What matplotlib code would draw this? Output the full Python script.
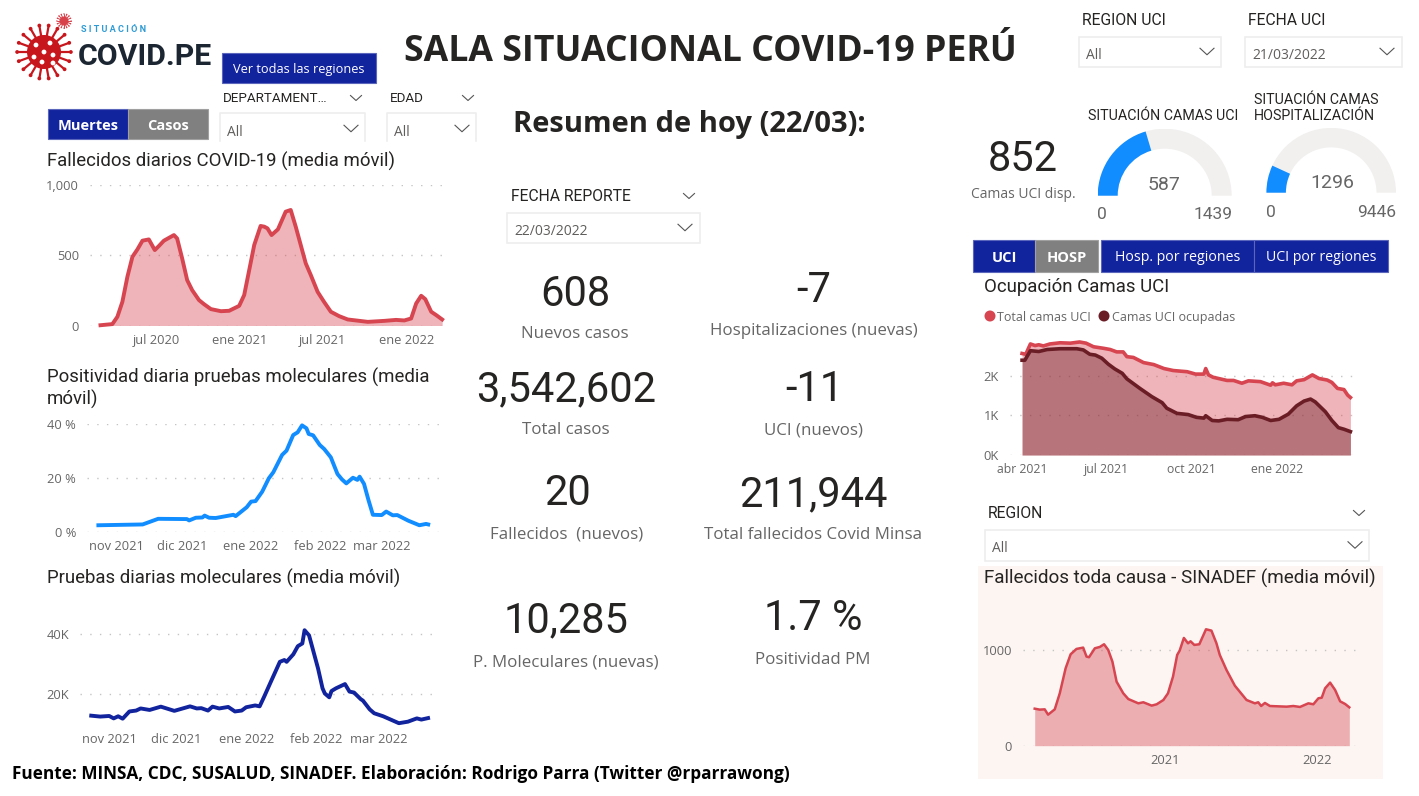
import matplotlib
matplotlib.use("Agg")
from matplotlib import pyplot as plt
from matplotlib.patches import Rectangle, Wedge, Circle
import numpy as np
import pandas as pd

W, H = 1419, 796

# fallecidos diarios covid
fall_inicio = "2020-03-01"
fall_dias = [0, 26, 37, 48, 59, 70, 81, 92, 106, 119, 128, 139, 161, 168, 179, 190, 201, 216, 227, 242,
             264, 282, 304, 315, 326, 337, 351, 359, 366, 375, 389, 406, 417, 428, 439, 450, 461, 476,
             490, 505, 523, 542, 586, 622, 648, 666, 681, 692, 703, 712, 725, 736, 749]
fall_vals = [2, 10, 62, 169, 348, 490, 543, 605, 614, 538, 567, 605, 645, 621, 479, 324, 252, 181, 152, 117,
             102, 105, 140, 217, 395, 574, 710, 705, 693, 645, 686, 812, 824, 705, 574, 443, 360, 240,
             169, 98, 67, 43, 26, 33, 40, 36, 50, 157, 212, 188, 98, 74, 43]

# positividad
pos_inicio = "2021-10-24"
pos_dias = [0, 20, 27, 40, 41, 44, 47, 48, 50, 53, 61, 62, 67, 69, 71, 74, 77, 79, 83, 85, 88, 90, 92, 94, 95,
            97, 100, 102, 105, 108, 110, 112, 115, 117, 118, 120, 122, 124, 128, 130, 133, 135, 140, 145, 148, 149]
pos_vals = [2.4, 2.7, 4.8, 4.7, 4.2, 5.2, 5.3, 6.0, 5.2, 5.1, 6.3, 5.8, 9.1, 11.2, 11.4, 14.9, 19.9, 22.1, 28.6,
            30.2, 36, 37, 39.6, 38.5, 36.4, 35.9, 32.3, 30.8, 27.7, 21.5, 19.5, 18, 20.1, 19.3, 20.5, 17.8, 11.8,
            6.3, 6.2, 7.5, 6.1, 6.2, 4.1, 2.4, 2.9, 2.7]

# pruebas moleculares (miles)
pru_inicio = "2021-10-24"
pru_dias = [0, 4, 8, 10, 12, 14, 17, 20, 22, 26, 31, 37, 44, 47, 49, 52, 54, 57, 61, 64, 67, 69, 73, 75, 77, 80,
            82, 84, 86, 87, 90, 92, 94, 95, 97, 99, 101, 103, 104, 106, 107, 109, 113, 115, 117, 120, 121, 124,
            126, 130, 137, 141, 145, 147, 150]
pru_vals = [12.7, 12.4, 12.6, 11.8, 12.5, 11.7, 14.1, 14.4, 15.1, 14.6, 15.7, 14.3, 15.8, 15.1, 15.2, 14.4, 15.7,
            15.1, 15.6, 14.1, 14.4, 15.5, 16.1, 15.8, 19, 24, 27.3, 30.6, 31.2, 30.6, 33.1, 35.8, 36.7, 41.1, 39.4,
            33.9, 28.4, 21.8, 20.1, 18.8, 20.9, 21.8, 23.2, 20.7, 20.4, 18.2, 17.7, 14.8, 13.5, 12.5, 10.2, 10.7,
            11.8, 11.4, 11.9]

# camas uci (miles)
uci_inicio = "2021-04-01"
total_dias = [0, 4, 9, 14, 18, 23, 30, 41, 52, 62, 69, 77, 88, 95, 102, 109, 113, 120, 131, 142, 153, 163, 178,
              187, 196, 198, 201, 206, 221, 228, 237, 244, 257, 268, 270, 273, 282, 291, 296, 304, 313, 320,
              329, 334, 340, 347, 351, 354]
total_vals = [2.56, 2.54, 2.8, 2.76, 2.78, 2.75, 2.8, 2.83, 2.82, 2.85, 2.82, 2.73, 2.69, 2.66, 2.6, 2.6, 2.48,
              2.46, 2.33, 2.28, 2.18, 2.13, 2.1, 2.04, 2.04, 2.18, 2.02, 1.96, 1.88, 1.88, 1.81, 1.87, 1.85, 1.76,
              1.82, 1.77, 1.81, 1.77, 1.87, 1.9, 2.02, 1.93, 1.89, 1.83, 1.68, 1.65, 1.51, 1.45]
ocup_dias = [0, 3, 9, 18, 27, 41, 59, 66, 73, 79, 86, 93, 100, 108, 113, 127, 140, 151, 156, 167, 179, 188, 196,
             198, 205, 212, 221, 233, 241, 251, 259, 268, 277, 287, 296, 304, 311, 316, 327, 334, 341, 347, 354]
ocup_vals = [2.39, 2.39, 2.63, 2.61, 2.66, 2.68, 2.68, 2.65, 2.54, 2.52, 2.44, 2.29, 2.17, 2.06, 1.92, 1.68, 1.47,
             1.32, 1.18, 1.05, 1.02, 0.95, 0.93, 0.99, 0.87, 0.86, 0.9, 0.89, 0.97, 0.99, 0.95, 0.87, 0.9, 1.03,
             1.24, 1.36, 1.41, 1.34, 1.09, 0.87, 0.69, 0.65, 0.59]

# sinadef
sin_inicio = "2020-02-25"
sin_dias = [0, 12, 24, 32, 48, 60, 74, 86, 100, 116, 124, 130, 144, 156, 166, 176, 186, 196, 212, 224, 248, 260,
            280, 292, 308, 319, 331, 341, 347, 357, 367, 373, 382, 394, 410, 423, 435, 443, 459, 479, 507, 527,
            535, 542, 551, 563, 603, 619, 635, 655, 667, 679, 687, 695, 707, 719, 731, 743, 753]
sin_vals = [388, 378, 381, 325, 381, 549, 811, 958, 1014, 1028, 934, 927, 1021, 1035, 1063, 1003, 881, 671, 549,
            489, 444, 455, 420, 434, 479, 549, 724, 951, 997, 1129, 1073, 1094, 1056, 1063, 1220, 1206, 1073, 951,
            794, 629, 479, 444, 455, 416, 448, 416, 409, 416, 406, 444, 434, 497, 503, 601, 661, 584, 465, 437, 402]

# gauges
uci_ocupadas, uci_max = 587, 1439
hosp_ocupadas, hosp_max = 1296, 9446

# tarjetas
kpi_valores = ["608", "-7", "3,542,602", "-11", "20", "211,944", "10,285", "1.7 %"]
kpi_nombres = ["Nuevos casos", "Hospitalizaciones (nuevas)", "Total casos", "UCI (nuevos)", "Fallecidos  (nuevos)",
               "Total fallecidos Covid Minsa", "P. Moleculares (nuevas)", "Positividad PM"]
kpi_pos = [(575, 291, 333), (814, 287, 330), (566, 386, 429), (814, 386, 429),
           (567, 490, 533), (813, 491, 534), (566, 617, 661), (813, 615, 659)]

ROJO = "#D64550"
AZUL = "#118DFF"
NAVY = "#12239E"
GUINDA = "#6B1D26"
GRIS = "#666666"
OSCURO = "#252423"
SEGOE = "Open Sans"
DIN = "Roboto"

fig = plt.figure(figsize=(W / 100, H / 100), dpi=100, facecolor="white")

# capa en pixeles para todo lo que no es grafico
bg = fig.add_axes([0, 0, 1, 1], zorder=0)
bg.set_xlim(0, W)
bg.set_ylim(H, 0)
bg.axis("off")


def txt(x, y, s, size=11, color=OSCURO, ha="left", weight="normal", family=SEGOE, z=5):
    # va center queda alto por los descendentes, se corrige segun el tamano
    bg.text(x, y + size * 0.12, s, fontsize=size, color=color, ha=ha, va="center", fontweight=weight,
            family=family, zorder=z)


def boton(x0, x1, y0, y1, s, color=NAVY, size=10.2, weight="normal"):
    bg.add_patch(Rectangle((x0, y0), x1 - x0, y1 - y0, fc=color, ec="#5A66BC" if color == NAVY else "#A0A0A0", lw=0.8))
    txt((x0 + x1) / 2, (y0 + y1) / 2 + 0.5, s, size=size, color="white", ha="center", weight=weight)


def chevron(x, y, w=7, h=6.5, color="#555555"):
    bg.plot([x - w, x, x + w], [y - h / 2, y + h / 2, y - h / 2], color=color, lw=0.8)


def slicer(x_tit, y_tit, titulo, x_ch, x0, x1, y0, y1, valor, x_ch2, abierto=False, size=11.3):
    txt(x_tit, y_tit, titulo, size=size, family=DIN)
    if x_ch is not None:
        chevron(x_ch, y_tit + 1, w=5.5, h=5)
    if abierto:
        bg.plot([x0, x0, x1, x1], [y1, y0, y0, y1], color="#EEEEEE", lw=1.2)
    else:
        bg.add_patch(Rectangle((x0, y0), x1 - x0, y1 - y0, fc="white", ec="#EEEEEE", lw=1.2))
    txt(x0 + 7, (y0 + y1) / 2 + (4 if abierto else 2), valor, size=10, color="#605E5C")
    chevron(x_ch2, (y0 + y1) / 2 - 0.5 + (2 if abierto else 0))


def make_ax(left, top, right, bottom):
    ax = fig.add_axes([left / W, 1 - bottom / H, (right - left) / W, (bottom - top) / H], zorder=2)
    ax.patch.set_alpha(0)
    for s in ax.spines.values():
        s.set_visible(False)
    ax.tick_params(length=0, labelsize=9.3, labelcolor=GRIS, labelfontfamily=SEGOE)
    ax.tick_params(axis="x", pad=6)
    ax.tick_params(axis="y", pad=8)
    ax.grid(axis="y", color="#C4C4C4", lw=1, linestyle=(0, (1, 6)))
    ax.set_axisbelow(True)
    return ax


def fechas(inicio, dias):
    return pd.Timestamp(inicio) + pd.to_timedelta(dias, unit="D")


def set_fechas(ax, xini, xfin, ticks, labels):
    ax.set_xlim(pd.Timestamp(xini), pd.Timestamp(xfin))
    ax.set_xticks(pd.to_datetime(ticks))
    ax.set_xticklabels(labels)


###########
#  logo   #
###########
for cx, cy, r, n, lw, dot, col in [(44, 52, 17, 18, 1.6, 1.9, "#C8161D"), (64, 21, 4.5, 16, 0.7, 0.7, "#D8404A")]:
    bg.add_patch(Circle((cx, cy), r, fc=col, ec="none"))
    ang = np.linspace(0, 2 * np.pi, n, endpoint=False)
    for a in ang:
        x1, y1 = cx + r * 1.58 * np.cos(a), cy + r * 1.58 * np.sin(a)
        bg.plot([cx, x1], [cy, y1], color=col, lw=lw, solid_capstyle="round")
        bg.add_patch(Circle((x1, y1), dot, fc=col, ec="none"))
for dx, dy in [(-8, -7), (6, -9), (-10, 5), (0, 0), (9, 3), (-2, 10), (9, 11)]:
    bg.add_patch(Circle((44 + dx, 52 + dy), 2.4, fc="white", ec="none", zorder=3))
bg.text(81, 30, "S I T U A C I Ó N", fontsize=6.6, color="#2E9BD6", fontweight="bold", family="Roboto", va="center")
bg.text(78, 57, "COVID.PE", fontsize=21.8, color="#1B2632", fontweight="bold", family="Roboto", va="center")

##############
#  cabecera  #
##############
txt(710, 49, "SALA SITUACIONAL COVID-19 PERÚ", size=25.7, ha="center", weight="bold")
txt(513, 122, "Resumen de hoy (22/03):", size=21, weight="bold")
boton(222, 376, 53, 83, "Ver todas las regiones", size=9.2)
boton(48, 128, 109, 139, "Muertes", size=10.5, weight="bold")
boton(128, 208, 109, 139, "Casos", color="#808080", size=10.5, weight="bold")
boton(973, 1035, 240, 272, "UCI", size=10.5, weight="bold")
boton(1035, 1098, 240, 272, "HOSP", color="#808080", size=10.5, weight="bold")
boton(1101, 1254, 240, 272, "Hosp. por regiones")
boton(1254, 1388, 240, 272, "UCI por regiones")

slicer(223, 97, "DEPARTAMENT…", 356, 220, 365, 113, 141, "All", 351, abierto=True, size=9.6)
slicer(390, 97, "EDAD", 468, 387, 476, 113, 141, "All", 462, abierto=True, size=9.6)
slicer(1082, 19, "REGION UCI", None, 1079, 1221, 37, 67, "All", 1207)
slicer(1248, 19, "FECHA UCI", None, 1245, 1402, 37, 67, "21/03/2022", 1387)
slicer(511, 195, "FECHA REPORTE", 689, 507, 700, 213, 243, "22/03/2022", 685)
slicer(988, 512, "REGION", 1359, 985, 1369, 530, 561, "All", 1355)

##############
#  tarjetas  #
##############
for v, n, (x, y1, y2) in zip(kpi_valores, kpi_nombres, kpi_pos):
    txt(x, y1, v, size=30, ha="center", family=DIN)
    txt(x, y2, n, size=12.2, ha="center", color=GRIS)

txt(1023, 156, "852", size=30, ha="center", family=DIN)
txt(1023, 193, "Camas UCI disp.", size=10, ha="center", color=GRIS)

# titulos de graficos
for x, y, s in [(47, 160, "Fallecidos diarios COVID-19 (media móvil)"),
                (47, 376, "Positividad diaria pruebas moleculares (media"),
                (47, 398, "móvil)"),
                (47, 577, "Pruebas diarias moleculares (media móvil)"),
                (984, 285, "Ocupación Camas UCI")]:
    txt(x, y, s, size=13.4, family=DIN)

txt(1088, 115, "SITUACIÓN CAMAS UCI", size=10.3, family=DIN)
txt(1254, 99, "SITUACIÓN CAMAS", size=10.3, family=DIN)
txt(1254, 115, "HOSPITALIZACIÓN", size=10.3, family=DIN)

txt(12, 773, "Fuente: MINSA, CDC, SUSALUD, SINADEF. Elaboración: Rodrigo Parra (Twitter @rparrawong)",
    size=12.4, weight="bold", color="black")

# leyenda uci
bg.add_patch(Circle((990, 316), 5.5, fc=ROJO, ec="none"))
bg.add_patch(Circle((1104, 316), 5.5, fc=GUINDA, ec="none"))
txt(997, 316, "Total camas UCI", size=9, color=GRIS)
txt(1112, 316, "Camas UCI ocupadas", size=9, color=GRIS)

# fondo del panel sinadef
bg.add_patch(Rectangle((978, 566), 405, 213, fc="#FDF5F2", ec="none", zorder=1))
txt(984, 577, "Fallecidos toda causa - SINADEF (media móvil)", size=13.6, family=DIN)

############
#  gauges  #
############
for cx, cy, r0, r1, val, vmax, xv, yv, x0, xm, ym in [
        (1164.7, 195.7, 47, 67, uci_ocupadas, uci_max, 1164.5, 183, 1102, 1213, 213),
        (1331.2, 192.7, 45.3, 64.8, hosp_ocupadas, hosp_max, 1332, 181, 1271, 1377, 211)]:
    ax = fig.add_axes([(cx - r1) / W, 1 - cy / H, 2 * r1 / W, r1 / H], zorder=2)
    ax.set_xlim(-1, 1)
    ax.set_ylim(0, 1)
    ax.axis("off")
    ang = 180 - 180 * val / vmax
    ax.add_patch(Wedge((0, 0), 1, 0, 180, width=1 - r0 / r1, fc="#F1F0EF", ec="none"))
    ax.add_patch(Wedge((0, 0), 1, ang, 180, width=1 - r0 / r1, fc=AZUL, ec="none"))
    txt(xv, yv, str(val), size=14, ha="center", color=GRIS, family=DIN)
    txt(x0, ym, "0", size=12.5, ha="center", color=GRIS, family=DIN)
    txt(xm, ym, str(vmax), size=12.5, ha="center", color=GRIS, family=DIN)

###############
#  graficos   #
###############
ax = make_ax(90, 185.3, 449, 325.5)
x = fechas(fall_inicio, fall_dias)
ax.fill_between(x, fall_vals, color=ROJO, alpha=0.4, lw=0)
ax.plot(x, fall_vals, color=ROJO, lw=2.8, clip_on=False)
ax.set_ylim(0, 1000)
ax.set_yticks([0, 500, 1000], ["0", "500", "1,000"])
set_fechas(ax, "2020-02-07", "2022-04-04", ["2020-07-01", "2021-01-01", "2021-07-01", "2022-01-01"],
           ["jul 2020", "ene 2021", "jul 2021", "ene 2022"])

ax = make_ax(87.3, 424.3, 439.3, 531.7)
x = fechas(pos_inicio, pos_dias)
ax.plot(x, pos_vals, color=AZUL, lw=2.8, clip_on=False)
ax.set_ylim(0, 40)
ax.set_yticks([0, 20, 40], ["0 %", "20 %", "40 %"])
set_fechas(ax, "2021-10-19", "2022-03-27", ["2021-11-01", "2021-12-01", "2022-01-01", "2022-02-01", "2022-03-01"],
           ["nov 2021", "dic 2021", "ene 2022", "feb 2022", "mar 2022"])

ax = make_ax(80, 620, 439.3, 725)
x = fechas(pru_inicio, pru_dias)
ax.plot(x, pru_vals, color=NAVY, lw=2.8, clip_on=False)
ax.set_ylim(9.6, 44.5)
ax.set_yticks([20, 40], ["20K", "40K"])
set_fechas(ax, "2021-10-19", "2022-03-28", ["2021-11-01", "2021-12-01", "2022-01-01", "2022-02-01", "2022-03-01"],
           ["nov 2021", "dic 2021", "ene 2022", "feb 2022", "mar 2022"])

ax = make_ax(1010, 340, 1356, 455)
xt = fechas(uci_inicio, total_dias)
xo = fechas(uci_inicio, ocup_dias)
ax.fill_between(xt, total_vals, color=ROJO, alpha=0.4, lw=0)
ax.fill_between(xo, ocup_vals, color=GUINDA, alpha=0.42, lw=0)
ax.plot(xt, total_vals, color=ROJO, lw=2.6, clip_on=False)
ax.plot(xo, ocup_vals, color=GUINDA, lw=2.6, clip_on=False)
ax.set_ylim(0, 2.9)
ax.set_yticks([0, 1, 2], ["0K", "1K", "2K"])
set_fechas(ax, "2021-03-19", "2022-03-27", ["2021-04-01", "2021-07-01", "2021-10-01", "2022-01-01"],
           ["abr 2021", "jul 2021", "oct 2021", "ene 2022"])
ax.tick_params(axis="x", labelsize=8.8)

ax = make_ax(1023, 610, 1356, 745.7)
x = fechas(sin_inicio, sin_dias)
ax.fill_between(x, sin_vals, color=ROJO, alpha=0.4, lw=0)
ax.plot(x, sin_vals, color=ROJO, lw=1.8, clip_on=False)
ax.set_ylim(0, 1422)
ax.set_yticks([0, 1000], ["0", "1000"])
set_fechas(ax, "2020-01-28", "2022-04-04", ["2021-01-01", "2022-01-01"], ["2021", "2022"])

fig.savefig("out.png", dpi=100)
